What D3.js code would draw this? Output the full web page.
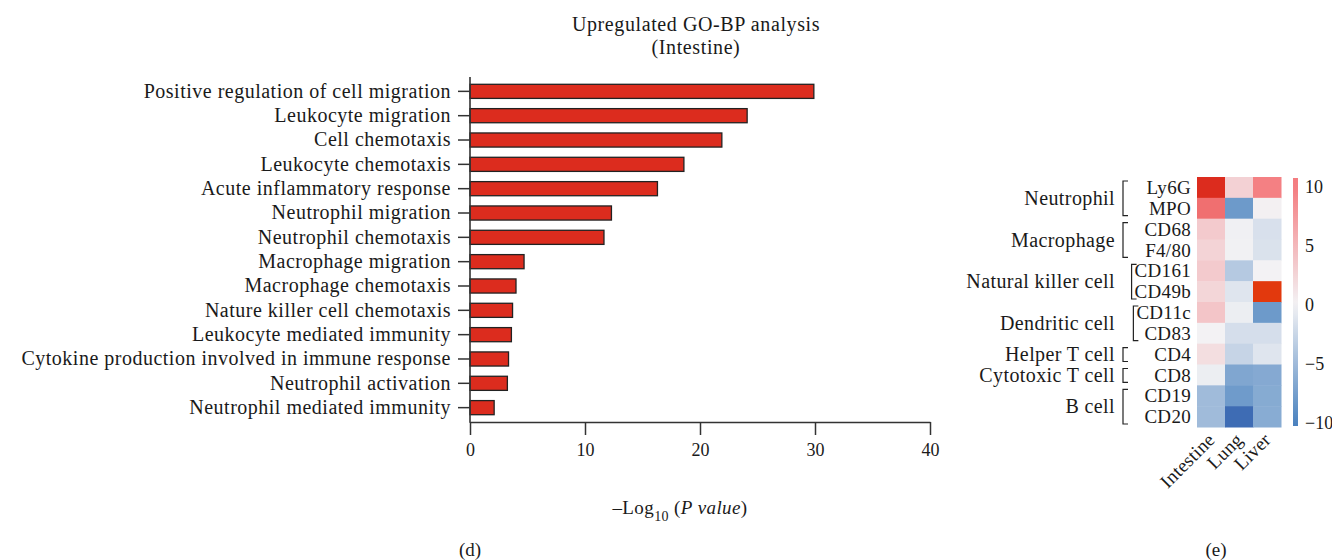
<!DOCTYPE html>
<html><head><meta charset="utf-8">
<script src="https://cdn.jsdelivr.net/npm/d3@7"></script>
<style>
body{margin:0;background:#fff}
svg{display:block}
text{font-family:"Liberation Serif","Times New Roman",serif;fill:#1a1a1a}
</style>
</head><body>
<svg id="c" width="1332" height="560"></svg>
<script>
// ---------- data: bar chart (d) ----------
const terms = [
  "Positive regulation of cell migration",
  "Leukocyte migration",
  "Cell chemotaxis",
  "Leukocyte chemotaxis",
  "Acute inflammatory response",
  "Neutrophil migration",
  "Neutrophil chemotaxis",
  "Macrophage migration",
  "Macrophage chemotaxis",
  "Nature killer cell chemotaxis",
  "Leukocyte mediated immunity",
  "Cytokine production involved in immune response",
  "Neutrophil activation",
  "Neutrophil mediated immunity"
];
const logP = [29.9, 24.1, 21.9, 18.6, 16.3, 12.3, 11.65, 4.7, 4.0, 3.7, 3.6, 3.35, 3.25, 2.1];
const xTicks = [0, 10, 20, 30, 40];

// ---------- data: heatmap (e) ----------
const tissues = ["Intestine", "Lung", "Liver"];
const markers = ["Ly6G","MPO","CD68","F4/80","CD161","CD49b","CD11c","CD83","CD4","CD8","CD19","CD20"];
const cellTypes = ["Neutrophil","Macrophage","Natural killer cell","Dendritic cell","Helper T cell","Cytotoxic T cell","B cell"];
const markerCellType = ["Neutrophil","Neutrophil","Macrophage","Macrophage","Natural killer cell","Natural killer cell",
  "Dendritic cell","Dendritic cell","Helper T cell","Cytotoxic T cell","B cell","B cell"];
const intestineVals = [16, 11, 3.4, 2.6, 3.4, 2.4, 3.8, 0, 1.7, -0.4, -5, -5];
const lungVals      = [2.8, -8, -0.2, -0.1, -3.7, -1.2, -0.4, -1.8, -2.7, -6.9, -7.9, -12];
const liverVals     = [9.7, 0.2, -1.6, -1.5, 0, 20, -8, -1.8, -1.2, -6.6, -6.5, -6.4];
const colorTicks = [10, 5, 0, -5, -10];

const svg = d3.select("#c");

// ================= Panel (d) =================
const x = d3.scaleLinear().domain([0, 40]).range([470, 930]);
const y = d3.scaleBand().domain(terms).range([77, 422]).paddingInner(0.42).paddingOuter(0.3);

svg.append("g").selectAll("rect").data(terms).join("rect")
  .attr("x", x(0))
  .attr("y", d => y(d))
  .attr("width", (d, i) => x(logP[i]) - x(0))
  .attr("height", y.bandwidth())
  .attr("fill", "#dc2c1e")
  .attr("stroke", "#222")
  .attr("stroke-width", 1.3);

const yAx = svg.append("g").attr("transform", `translate(${x(0)},0)`)
  .call(d3.axisLeft(y).tickSize(12).tickPadding(7));
yAx.select(".domain").remove();
yAx.selectAll(".tick line").attr("stroke", "#333").attr("stroke-width", 1.5);
yAx.selectAll("text").style("font-size", "20px").style("letter-spacing", "0.5px")
  .attr("fill", "#1a1a1a").style("font-family", '"Liberation Serif",serif');

const xAx = svg.append("g").attr("transform", "translate(0,422)")
  .call(d3.axisBottom(x).tickValues(xTicks).tickSize(13).tickSizeOuter(0).tickPadding(8));
xAx.select(".domain").attr("stroke", "#333").attr("stroke-width", 1.6);
xAx.selectAll(".tick line").attr("stroke", "#333").attr("stroke-width", 1.5);
xAx.selectAll("text").style("font-size", "18px").attr("fill", "#1a1a1a")
  .style("font-family", '"Liberation Serif",serif');

svg.append("line").attr("x1", x(0)).attr("x2", x(0)).attr("y1", y.range()[0]).attr("y2", 422.8)
  .attr("stroke", "#333").attr("stroke-width", 1.6);

// title
const title = svg.append("text").attr("text-anchor", "middle").style("font-size", "20px").style("letter-spacing", "0.6px");
title.append("tspan").attr("x", 696).attr("y", 31).text("Upregulated GO-BP analysis");
title.append("tspan").attr("x", 696).attr("y", 54).text("(Intestine)");

// x axis label
const xl = svg.append("text").attr("x", 680).attr("y", 514).attr("text-anchor", "middle")
  .style("font-size", "19px").style("letter-spacing", "0.4px");
xl.append("tspan").text("–Log");
xl.append("tspan").attr("dy", 7).style("font-size", "14px").text("10");
xl.append("tspan").attr("dy", -7).text(" (");
xl.append("tspan").style("font-style", "italic").text("P value");
xl.append("tspan").text(")");

svg.append("text").attr("x", 470).attr("y", 556).attr("text-anchor", "middle").style("font-size", "19px").text("(d)");

// ================= Panel (e) =================
const hx = d3.scaleBand().domain(tissues).range([1197, 1281]);
const hy = d3.scaleBand().domain(markers).range([177, 427]);
const color = d3.scaleLinear()
  .domain([-12, -10, 0, 10, 16, 20])
  .range(["#3e6cb4", "#4c84c0", "#f3f2f4", "#f47c80", "#dc2c1e", "#e2390d"])
  .clamp(true);

const cells = [];
const tissueVals = [intestineVals, lungVals, liverVals];
tissues.forEach((t, j) => markers.forEach((m, i) => cells.push({t, m, v: tissueVals[j][i]})));
svg.append("g").selectAll("rect").data(cells).join("rect")
  .attr("x", d => hx(d.t)).attr("y", d => hy(d.m))
  .attr("width", hx.bandwidth() + 0.5).attr("height", hy.bandwidth() + 0.5)
  .attr("fill", d => color(d.v));

// marker labels
const mLab = svg.append("g").selectAll("text").data(markers).join("text")
  .attr("x", 1191).attr("y", d => hy(d) + hy.bandwidth() / 2)
  .attr("dy", "0.35em").attr("text-anchor", "end")
  .style("font-size", "19px").style("letter-spacing", "0.3px")
  .text(d => d);
const widths = {};
mLab.each(function(d) { widths[d] = this.getComputedTextLength(); });

// group labels and brackets
cellTypes.forEach(ct => {
  const ms = markers.filter((m, i) => markerCellType[i] === ct);
  const top = hy(ms[0]), bot = hy(ms[ms.length - 1]) + hy.bandwidth();
  const labelLeft = 1191 - d3.max(ms, m => widths[m]);
  const bx = (labelLeft - 3 < 1135) ? labelLeft - 3 : 1123;
  const y0 = top + 4, y1 = bot - 3;
  svg.append("path")
    .attr("d", `M${bx + 5},${y0}H${bx}V${y1}H${bx + 5}`)
    .attr("fill", "none").attr("stroke", "#222").attr("stroke-width", 1.2);
  svg.append("text").attr("x", 1115).attr("y", (top + bot) / 2).attr("dy", "0.35em")
    .attr("text-anchor", "end").style("font-size", "20px").style("letter-spacing", "0.4px").text(ct);
});

// column labels
svg.append("g").selectAll("text").data(tissues).join("text")
  .attr("transform", d => `translate(${hx(d) + hx.bandwidth() / 2 + 5},441) rotate(-45)`)
  .attr("text-anchor", "end").style("font-size", "19px").style("letter-spacing", "0.3px")
  .text(d => d);

// colorbar
const cy = d3.scaleLinear().domain([-10.3, 10.7]).range([426, 178]);
const defs = svg.append("defs");
const grad = defs.append("linearGradient").attr("id", "cbar").attr("x1", 0).attr("x2", 0).attr("y1", 1).attr("y2", 0);
d3.range(0, 21).forEach(k => {
  const v = -10.3 + k * 21 / 20;
  grad.append("stop").attr("offset", k / 20).attr("stop-color", color(Math.min(v, 10)));
});
svg.append("rect").attr("x", 1293).attr("y", cy(10.7)).attr("width", 5).attr("height", cy(-10.3) - cy(10.7))
  .attr("fill", "url(#cbar)");
svg.append("g").selectAll("text").data(colorTicks).join("text")
  .attr("x", 1305).attr("y", d => cy(d)).attr("dy", "0.35em")
  .style("font-size", "18px")
  .text(d => d < 0 ? "−" + Math.abs(d) : d);

svg.append("text").attr("x", 1216).attr("y", 556).attr("text-anchor", "middle").style("font-size", "19px").text("(e)");
</script>
</body></html>
